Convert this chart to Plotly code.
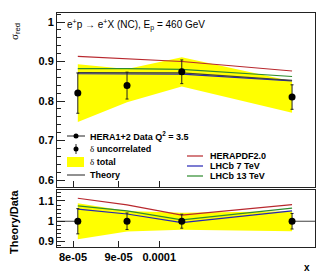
import plotly.graph_objects as go

# ---- data ----
x_vals = [8.1e-5, 9.2e-5, 1.06e-4, 1.41e-4]
data_vals = [0.820, 0.839, 0.874, 0.810]
err_unc = [0.051, 0.034, 0.030, 0.031]
err_tot = [0.073, 0.042, 0.037, 0.040]
theory = [0.872, 0.872, 0.871, 0.852]
herapdf = [0.913, 0.907, 0.900, 0.876]
lhcb7 = [0.869, 0.869, 0.868, 0.851]
lhcb13 = [0.882, 0.882, 0.880, 0.862]

x_tickvals = [8e-5, 9e-5, 1e-4]
x_ticktext = ["8e-05", "9e-05", "0.0001"]
y_top_ticks = [0.6, 0.7, 0.8, 0.9, 1.0]
y_top_text = ["0.6", "0.7", "0.8", "0.9", "1"]
y_bot_ticks = [0.9, 1.0, 1.1]
y_bot_text = ["0.9", "1", "1.1"]

W, H = 332, 276
def px(x): return x / W
def py(y): return 1 - y / H

RED = "#b8282e"
BLUE = "#2626b4"
GREEN = "#2e8b2e"
GREY = "#404040"
YEL = "#ffff00"
FONT = "Liberation Sans"

fig = go.Figure()

# yellow total-uncertainty band (top)
band_up = [d + e for d, e in zip(data_vals, err_tot)]
band_dn = [d - e for d, e in zip(data_vals, err_tot)]
fig.add_trace(go.Scatter(x=x_vals + x_vals[::-1], y=band_up + band_dn[::-1],
                         fill="toself", fillcolor=YEL, line=dict(width=0),
                         mode="lines", xaxis="x", yaxis="y", hoverinfo="skip"))
# theory lines (top)
for vals, col in [(herapdf, RED), (lhcb13, GREEN), (lhcb7, BLUE), (theory, GREY)]:
    fig.add_trace(go.Scatter(x=x_vals, y=vals, mode="lines",
                             line=dict(color=col, width=1.2), xaxis="x", yaxis="y"))
# data points (top)
fig.add_trace(go.Scatter(x=x_vals, y=data_vals, mode="markers",
                         marker=dict(color="black", size=7),
                         error_y=dict(type="data", array=err_unc, color="#222", thickness=1, width=1.5),
                         xaxis="x", yaxis="y"))

# ratio panel
r_up = [u / d for u, d in zip(band_up, data_vals)]
r_dn = [l / d for l, d in zip(band_dn, data_vals)]
fig.add_trace(go.Scatter(x=x_vals + x_vals[::-1], y=r_up + r_dn[::-1],
                         fill="toself", fillcolor=YEL, line=dict(width=0),
                         mode="lines", xaxis="x2", yaxis="y2", hoverinfo="skip"))
for vals, col in [(herapdf, RED), (lhcb13, GREEN), (lhcb7, BLUE)]:
    fig.add_trace(go.Scatter(x=x_vals, y=[v / d for v, d in zip(vals, data_vals)], mode="lines",
                             line=dict(color=col, width=1.2), xaxis="x2", yaxis="y2"))
fig.add_trace(go.Scatter(x=x_vals, y=[1.0] * len(x_vals), mode="markers",
                         marker=dict(color="black", size=7),
                         error_y=dict(type="data", array=[e / d for e, d in zip(err_unc, data_vals)],
                                      color="#222", thickness=1, width=1.5),
                         xaxis="x2", yaxis="y2"))

xdom = [px(57), px(315)]
xr = [-4.1149, -3.8250]
common_x = dict(type="log", range=xr, domain=xdom, showgrid=False, zeroline=False,
                showline=True, mirror=True, linecolor="#222", linewidth=1,
                tickvals=x_tickvals, ticks="inside", ticklen=6, tickcolor="#222")
common_y = dict(showgrid=False, zeroline=False, showline=True, mirror=True,
                linecolor="#222", linewidth=1, ticks="inside", ticklen=8, tickcolor="#222",
                tickfont=dict(family=FONT, size=11, color="black", weight="bold"),
                minor=dict(ticks="inside", ticklen=4, dtick=0.02, tickcolor="#222"))

fig.update_layout(
    width=W, height=H, margin=dict(l=0, r=0, t=0, b=0),
    paper_bgcolor="white", plot_bgcolor="white", showlegend=False,
    xaxis=dict(**common_x, anchor="y", showticklabels=False),
    yaxis=dict(**common_y, domain=[py(187), py(13)], range=[0.5823, 1.0228],
               tickvals=y_top_ticks, ticktext=y_top_text),
    xaxis2=dict(**common_x, anchor="y2", ticktext=x_ticktext,
                tickfont=dict(family=FONT, size=11, color="black", weight="bold")),
    yaxis2=dict(**common_y, domain=[py(247), py(190)], range=[0.873, 1.154],
                tickvals=y_bot_ticks, ticktext=y_bot_text),
)

shapes = [dict(type="line", xref="x2 domain", yref="y2", x0=0, x1=1, y0=1, y1=1,
               line=dict(color=GREY, width=1), layer="below")]

ann = []
def text(x, y, s, size=9, bold=True, anchor="left", angle=0, family=FONT):
    ann.append(dict(x=px(x), y=py(y), xref="paper", yref="paper", text=s, showarrow=False,
                    xanchor=anchor, yanchor="middle", textangle=angle,
                    font=dict(family=family, size=size, color="black",
                              weight="bold" if bold else "normal")))

# title
text(65, 25, "e<sup>+</sup>p → e<sup>+</sup>X (NC), E<sub>p</sub> = 460 GeV", size=10, bold=False)
# axis titles
text(15, 32, "<span style='font-family:Liberation Serif'>σ</span><sub>red</sub>", size=11, bold=False, anchor="center", angle=-90)
text(14, 222, "Theory/Data", size=11, anchor="center", angle=-90)
text(307, 267, "x", size=10, anchor="center")

# left legend
legend_left = [
    (136, "HERA1+2 Data Q<sup>2</sup> = 3.5"),
    (149, "<span style='font-family:Liberation Serif;font-weight:normal'>δ</span> uncorrelated"),
    (162, "<span style='font-family:Liberation Serif;font-weight:normal'>δ</span> total"),
    (175, "Theory"),
]
for yy, s in legend_left:
    text(88, yy, s, size=9)
shapes.append(dict(type="line", xref="paper", yref="paper", x0=px(67), x1=px(85), y0=py(136), y1=py(136),
                   line=dict(color="#222", width=1)))
shapes.append(dict(type="circle", xref="paper", yref="paper", x0=px(73.5), x1=px(78.5), y0=py(138.5), y1=py(133.5),
                   fillcolor="black", line=dict(color="black", width=0)))
shapes.append(dict(type="line", xref="paper", yref="paper", x0=px(76), x1=px(76), y0=py(144), y1=py(154),
                   line=dict(color="#222", width=1)))
shapes.append(dict(type="circle", xref="paper", yref="paper", x0=px(73.5), x1=px(78.5), y0=py(151.5), y1=py(146.5),
                   fillcolor="black", line=dict(color="black", width=0)))
shapes.append(dict(type="rect", xref="paper", yref="paper", x0=px(67), x1=px(84), y0=py(167), y1=py(157),
                   fillcolor=YEL, line=dict(width=0)))
shapes.append(dict(type="line", xref="paper", yref="paper", x0=px(67), x1=px(85), y0=py(175), y1=py(175),
                   line=dict(color="#222", width=1)))

# right legend
for yy, s, col in [(156, "HERAPDF2.0", RED), (166, "LHCb 7 TeV", BLUE), (176, "LHCb 13 TeV", GREEN)]:
    text(208, yy, s, size=9)
    shapes.append(dict(type="line", xref="paper", yref="paper", x0=px(187), x1=px(203), y0=py(yy), y1=py(yy),
                       line=dict(color=col, width=1.2)))

fig.update_layout(annotations=ann, shapes=shapes)
fig.write_html("out.html", config={"displayModeBar": False},
               post_script="document.body.style.margin='0px';")
